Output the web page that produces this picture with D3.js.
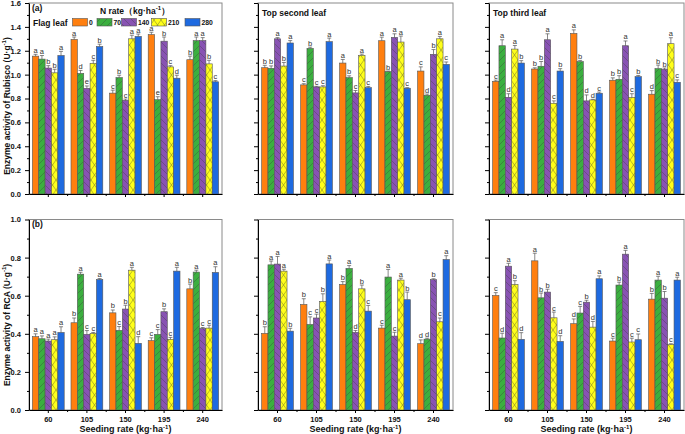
<!DOCTYPE html>
<html>
<head>
<meta charset="utf-8">
<script src="https://cdn.jsdelivr.net/npm/d3@7"></script>
<style>
  html, body { margin: 0; padding: 0; background: #fff; }
  svg { display: block; font-family: "Liberation Sans", Arial, sans-serif; }
</style>
</head>
<body>
<svg id="chart" width="685" height="434"></svg>
<script>
// ---------------- DATA ----------------
const seedingRates = ["60", "105", "150", "195", "240"];
const nRates = ["0", "70", "140", "210", "280"];
const seriesColors = ["#FF7F0F", "#3BAF3F", "#8853B3", "#FFFF1A", "#1E6AE0"];
const rubiscoTicks = [0.0, 0.2, 0.4, 0.6, 0.8, 1.0, 1.2, 1.4, 1.6];
const rcaTicks = [0.0, 0.2, 0.4, 0.6, 0.8, 1.0];

// values: rows = seeding rate, columns = N rate
const flagRubisco = [
  [1.155, 1.13, 1.055, 1.015, 1.16],
  [1.295, 1.01, 0.885, 1.095, 1.235],
  [0.845, 0.975, 0.785, 1.30, 1.32],
  [1.335, 0.79, 1.28, 1.065, 0.97],
  [1.125, 1.285, 1.285, 1.09, 0.94]
];
const flagRubiscoErr = [
  [0.015, 0.03, 0.02, 0.03, 0.035],
  [0.02, 0.025, 0.02, 0.025, 0.02],
  [0.025, 0.02, 0.01, 0.03, 0.02],
  [0.02, 0.025, 0.035, 0.01, 0.025],
  [0.03, 0.03, 0.025, 0.03, 0.01]
];
const flagRubiscoSig = [
  ["a", "a", "b", "b", "a"],
  ["a", "d", "e", "c", "b"],
  ["c", "b", "c", "a", "a"],
  ["a", "e", "b", "c", "d"],
  ["b", "a", "a", "b", "c"]
];

const secondRubisco = [
  [1.058, 1.053, 1.30, 1.072, 1.265],
  [0.914, 1.22, 0.897, 0.897, 1.276],
  [1.097, 0.975, 0.847, 1.162, 0.891],
  [1.284, 1.025, 1.312, 1.273, 0.886],
  [1.03, 0.827, 1.17, 1.30, 1.086]
];
const secondRubiscoErr = [
  [0.02, 0.02, 0.01, 0.03, 0.02],
  [0.01, 0.01, 0.005, 0.01, 0.03],
  [0.03, 0.015, 0.02, 0.01, 0.01],
  [0.03, 0.005, 0.03, 0.05, 0.005],
  [0.035, 0.01, 0.04, 0.02, 0.02]
];
const secondRubiscoSig = [
  ["b", "b", "a", "b", "a"],
  ["c", "b", "c", "c", "a"],
  ["a", "b", "c", "a", "c"],
  ["a", "b", "a", "a", "c"],
  ["c", "d", "b", "a", "c"]
];

const thirdRubisco = [
  [0.944, 1.242, 0.81, 1.214, 1.097],
  [1.047, 1.07, 1.292, 0.76, 1.03],
  [1.345, 1.109, 0.78, 0.788, 0.844],
  [0.953, 0.961, 1.242, 0.81, 0.983],
  [0.836, 1.05, 1.045, 1.259, 0.936]
];
const thirdRubiscoErr = [
  [0.01, 0.05, 0.03, 0.03, 0.02],
  [0.01, 0.04, 0.05, 0.02, 0.02],
  [0.03, 0.01, 0.05, 0.005, 0.01],
  [0.02, 0.03, 0.04, 0.03, 0.01],
  [0.03, 0.03, 0.01, 0.05, 0.02]
];
const thirdRubiscoSig = [
  ["c", "a", "d", "a", "b"],
  ["b", "b", "a", "c", "b"],
  ["a", "b", "d", "d", "c"],
  ["b", "b", "a", "c", "b"],
  ["d", "b", "b", "a", "c"]
];

const flagRCA = [
  [0.385, 0.374, 0.362, 0.369, 0.407],
  [0.458, 0.713, 0.397, 0.402, 0.685],
  [0.51, 0.418, 0.53, 0.734, 0.35],
  [0.364, 0.397, 0.516, 0.371, 0.729],
  [0.636, 0.724, 0.428, 0.43, 0.722]
];
const flagRCAErr = [
  [0.015, 0.015, 0.01, 0.015, 0.03],
  [0.025, 0.01, 0.02, 0.005, 0.005],
  [0.015, 0.02, 0.02, 0.015, 0.035],
  [0.015, 0.025, 0.015, 0.01, 0.02],
  [0.025, 0.01, 0.005, 0.015, 0.03]
];
const flagRCASig = [
  ["a", "a", "a", "a", "a"],
  ["b", "a", "c", "c", "a"],
  ["b", "c", "b", "a", "d"],
  ["c", "c", "b", "c", "a"],
  ["b", "a", "c", "c", "a"]
];

const secondRCA = [
  [0.402, 0.762, 0.766, 0.729, 0.414],
  [0.554, 0.449, 0.483, 0.57, 0.767],
  [0.659, 0.743, 0.407, 0.636, 0.519],
  [0.43, 0.698, 0.388, 0.682, 0.579],
  [0.348, 0.372, 0.684, 0.463, 0.79]
];
const secondRCAErr = [
  [0.035, 0.02, 0.04, 0.01, 0.015],
  [0.03, 0.04, 0.02, 0.04, 0.02],
  [0.015, 0.015, 0.01, 0.02, 0.03],
  [0.015, 0.04, 0.02, 0.01, 0.04],
  [0.02, 0.005, 0.005, 0.02, 0.02]
];
const secondRCASig = [
  ["b", "a", "a", "a", "b"],
  ["b", "c", "c", "b", "a"],
  ["b", "a", "d", "b", "c"],
  ["c", "a", "c", "a", "b"],
  ["d", "d", "b", "c", "a"]
];

const thirdRCA = [
  [0.601, 0.378, 0.755, 0.659, 0.371],
  [0.783, 0.589, 0.619, 0.484, 0.36],
  [0.453, 0.509, 0.566, 0.435, 0.689],
  [0.362, 0.656, 0.818, 0.357, 0.369],
  [0.582, 0.682, 0.587, 0.343, 0.682]
];
const thirdRCAErr = [
  [0.015, 0.025, 0.015, 0.02, 0.035],
  [0.04, 0.025, 0.015, 0.03, 0.03],
  [0.025, 0.035, 0.01, 0.03, 0.015],
  [0.015, 0.015, 0.02, 0.02, 0.03],
  [0.03, 0.02, 0.035, 0.005, 0.015]
];
const thirdRCASig = [
  ["c", "d", "a", "b", "d"],
  ["a", "b", "b", "c", "d"],
  ["d", "c", "b", "d", "a"],
  ["c", "b", "a", "c", "c"],
  ["b", "a", "b", "c", "a"]
];

// ---------------- LAYOUT ----------------
const svg = d3.select("#chart");
const defs = svg.append("defs");

// hatch patterns
function linePattern(id, color, dirs, w, h) {
  const p = defs.append("pattern").attr("id", id).attr("patternUnits", "userSpaceOnUse")
    .attr("width", w).attr("height", h);
  p.append("rect").attr("width", w).attr("height", h).attr("fill", color);
  dirs.forEach(d => {
    if (d === "/") {
      p.append("line").attr("x1", 0).attr("y1", h).attr("x2", w).attr("y2", 0);
      p.append("line").attr("x1", -w).attr("y1", h).attr("x2", 0).attr("y2", 0);
      p.append("line").attr("x1", w).attr("y1", h).attr("x2", 2 * w).attr("y2", 0);
    } else {
      p.append("line").attr("x1", 0).attr("y1", 0).attr("x2", w).attr("y2", h);
      p.append("line").attr("x1", -w).attr("y1", 0).attr("x2", 0).attr("y2", h);
      p.append("line").attr("x1", w).attr("y1", 0).attr("x2", 2 * w).attr("y2", h);
    }
  });
  p.selectAll("line").attr("stroke", "#3a3a3a").attr("stroke-width", 0.45).attr("stroke-opacity", 0.8);
  return "url(#" + id + ")";
}
const fills = [
  seriesColors[0],
  linePattern("pGreen", seriesColors[1], ["/"], 7, 7),
  linePattern("pPurple", seriesColors[2], ["\\"], 7, 7),
  linePattern("pYellow", seriesColors[3], ["/", "\\"], 7, 10),
  seriesColors[4]
];

const cols = [
  { left: 29, right: 222 },
  { left: 258, right: 453 },
  { left: 489, right: 684 }
];
const rows = [
  { top: 3, bottom: 194, max: 1.6, ticks: rubiscoTicks, minor: 0.1 },
  { top: 219.5, bottom: 410, max: 1.0, ticks: rcaTicks, minor: 0.1 }
];

const panels = [
  { r: 0, c: 0, v: flagRubisco, e: flagRubiscoErr, s: flagRubiscoSig, title: "Flag leaf" },
  { r: 0, c: 1, v: secondRubisco, e: secondRubiscoErr, s: secondRubiscoSig, title: "Top second leaf" },
  { r: 0, c: 2, v: thirdRubisco, e: thirdRubiscoErr, s: thirdRubiscoSig, title: "Top third leaf" },
  { r: 1, c: 0, v: flagRCA, e: flagRCAErr, s: flagRCASig, title: null },
  { r: 1, c: 1, v: secondRCA, e: secondRCAErr, s: secondRCASig, title: null },
  { r: 1, c: 2, v: thirdRCA, e: thirdRCAErr, s: thirdRCASig, title: null }
];

panels.forEach(p => {
  const col = cols[p.c], row = rows[p.r];
  const g = svg.append("g");
  const x = d3.scaleBand().domain(seedingRates).range([col.left, col.right]).paddingInner(0).paddingOuter(0);
  const y = d3.scaleLinear().domain([0, row.max]).range([row.bottom, row.top]);
  const halfGroup = 15.9;

  // frame
  g.append("rect").attr("x", col.left).attr("y", row.top)
    .attr("width", col.right - col.left).attr("height", row.bottom - row.top)
    .attr("fill", "none").attr("stroke", "#8a8a8a").attr("stroke-width", 1);

  // bars
  seedingRates.forEach((sr, gi) => {
    const cx = x(sr) + x.bandwidth() / 2;
    const xs = d3.scaleBand().domain(nRates).range([cx - halfGroup, cx + halfGroup]).padding(0);
    nRates.forEach((nr, si) => {
      const val = p.v[gi][si], err = p.e[gi][si];
      const bx = xs(nr), bw = xs.bandwidth();
      g.append("rect").attr("x", bx).attr("y", y(val))
        .attr("width", bw).attr("height", y(0) - y(val))
        .attr("fill", fills[si]).attr("stroke", "#555").attr("stroke-width", 0.6);
      const ex = bx + bw / 2;
      g.append("line").attr("x1", ex).attr("x2", ex).attr("y1", y(val)).attr("y2", y(val + err))
        .attr("stroke", "#555").attr("stroke-width", 0.7);
      g.append("line").attr("x1", ex - 2).attr("x2", ex + 2).attr("y1", y(val + err)).attr("y2", y(val + err))
        .attr("stroke", "#555").attr("stroke-width", 0.7);
      g.append("text").attr("x", ex).attr("y", y(val + err) - 1.5)
        .attr("text-anchor", "middle").attr("font-size", 7.5).attr("fill", "#333")
        .text(p.s[gi][si]);
    });
  });

  // y axis
  const yAxis = d3.axisLeft(y).tickValues(row.ticks).tickSize(4).tickSizeOuter(0)
    .tickFormat(p.c === 0 ? d3.format(".1f") : () => "");
  const ya = g.append("g").attr("transform", `translate(${col.left},0)`).call(yAxis);
  ya.select(".domain").attr("stroke", "#000").attr("stroke-width", 1);
  ya.selectAll(".tick line").attr("stroke", "#000");
  ya.selectAll(".tick text").attr("font-size", 7.5).attr("font-weight", "bold").attr("fill", "#111")
    .attr("font-family", "Liberation Sans, Arial, sans-serif").attr("dx", -1);
  // minor ticks
  const minors = d3.range(row.minor, row.max, 0.2).map(v => +v.toFixed(2));
  const ym = d3.axisLeft(y).tickValues(minors).tickSize(2).tickFormat(() => "");
  const ymg = g.append("g").attr("transform", `translate(${col.left},0)`).call(ym);
  ymg.select(".domain").remove();
  ymg.selectAll(".tick line").attr("stroke", "#000");

  // x axis
  const xAxis = d3.axisBottom(x).tickSize(3).tickSizeOuter(0)
    .tickFormat(p.r === 1 ? (d => d) : () => "");
  const xa = g.append("g").attr("transform", `translate(0,${row.bottom})`).call(xAxis);
  xa.select(".domain").attr("stroke", "#000").attr("stroke-width", 1);
  xa.selectAll(".tick line").attr("stroke", "#000");
  xa.selectAll(".tick text").attr("font-size", 7.5).attr("font-weight", "bold").attr("fill", "#111")
    .attr("font-family", "Liberation Sans, Arial, sans-serif").attr("y", 12).attr("dy", 0);
  // minor x ticks at group borders
  seedingRates.forEach((sr, gi) => {
    if (gi === 0) return;
    g.append("line").attr("x1", x(sr)).attr("x2", x(sr)).attr("y1", row.bottom).attr("y2", row.bottom + 2)
      .attr("stroke", "#000");
  });

  if (p.title) {
    g.append("text").attr("x", col.left + 4).attr("y", p.c === 0 ? 25.5 : 15.5)
      .attr("font-size", 8.5).attr("font-weight", "bold").attr("fill", "#111").text(p.title);
  }
  if (p.r === 1) {
    const t = g.append("text").attr("x", (col.left + col.right) / 2).attr("y", 432)
      .attr("text-anchor", "middle").attr("font-size", 9).attr("font-weight", "bold").attr("fill", "#111");
    t.append("tspan").text("Seeding rate (kg·ha");
    t.append("tspan").attr("dy", -3.5).attr("font-size", 6).text("-1");
    t.append("tspan").attr("dy", 3.5).text(")");
  }
});

// panel labels
svg.append("text").attr("x", 32).attr("y", 11).attr("font-size", 8.5).attr("font-weight", "bold").attr("fill", "#111").text("(a)");
svg.append("text").attr("x", 32).attr("y", 227).attr("font-size", 8.5).attr("font-weight", "bold").attr("fill", "#111").text("(b)");

// y titles
function yTitle(cy, label) {
  const t = svg.append("text").attr("transform", `translate(9.5,${cy}) rotate(-90)`)
    .attr("text-anchor", "middle").attr("font-size", 8.5).attr("font-weight", "bold").attr("fill", "#111");
  t.append("tspan").text(label + " (U·g");
  t.append("tspan").attr("dy", -3.5).attr("font-size", 6).text("-1");
  t.append("tspan").attr("dy", 3.5).text(")");
}
yTitle(106, "Enzyme activity of Rubisco");
yTitle(325, "Enzyme activity of RCA");

// legend
const lt = svg.append("text").attr("x", 135).attr("y", 13.5).attr("text-anchor", "middle")
  .attr("font-size", 8.5).attr("font-weight", "bold").attr("fill", "#111");
lt.append("tspan").text("N rate（kg·ha");
lt.append("tspan").attr("dy", -3.5).attr("font-size", 6).text("-1");
lt.append("tspan").attr("dy", 3.5).text("）");

const legendX = [72.5, 97, 121.5, 151.5, 185];
nRates.forEach((nr, i) => {
  svg.append("rect").attr("x", legendX[i]).attr("y", 18.5).attr("width", 15).attr("height", 7.5)
    .attr("fill", fills[i]).attr("stroke", "#555").attr("stroke-width", 0.6);
  svg.append("text").attr("x", legendX[i] + 16.5).attr("y", 25.3).attr("font-size", 6.8)
    .attr("font-weight", "bold").attr("fill", "#111").text(nr);
});
</script>
</body>
</html>
